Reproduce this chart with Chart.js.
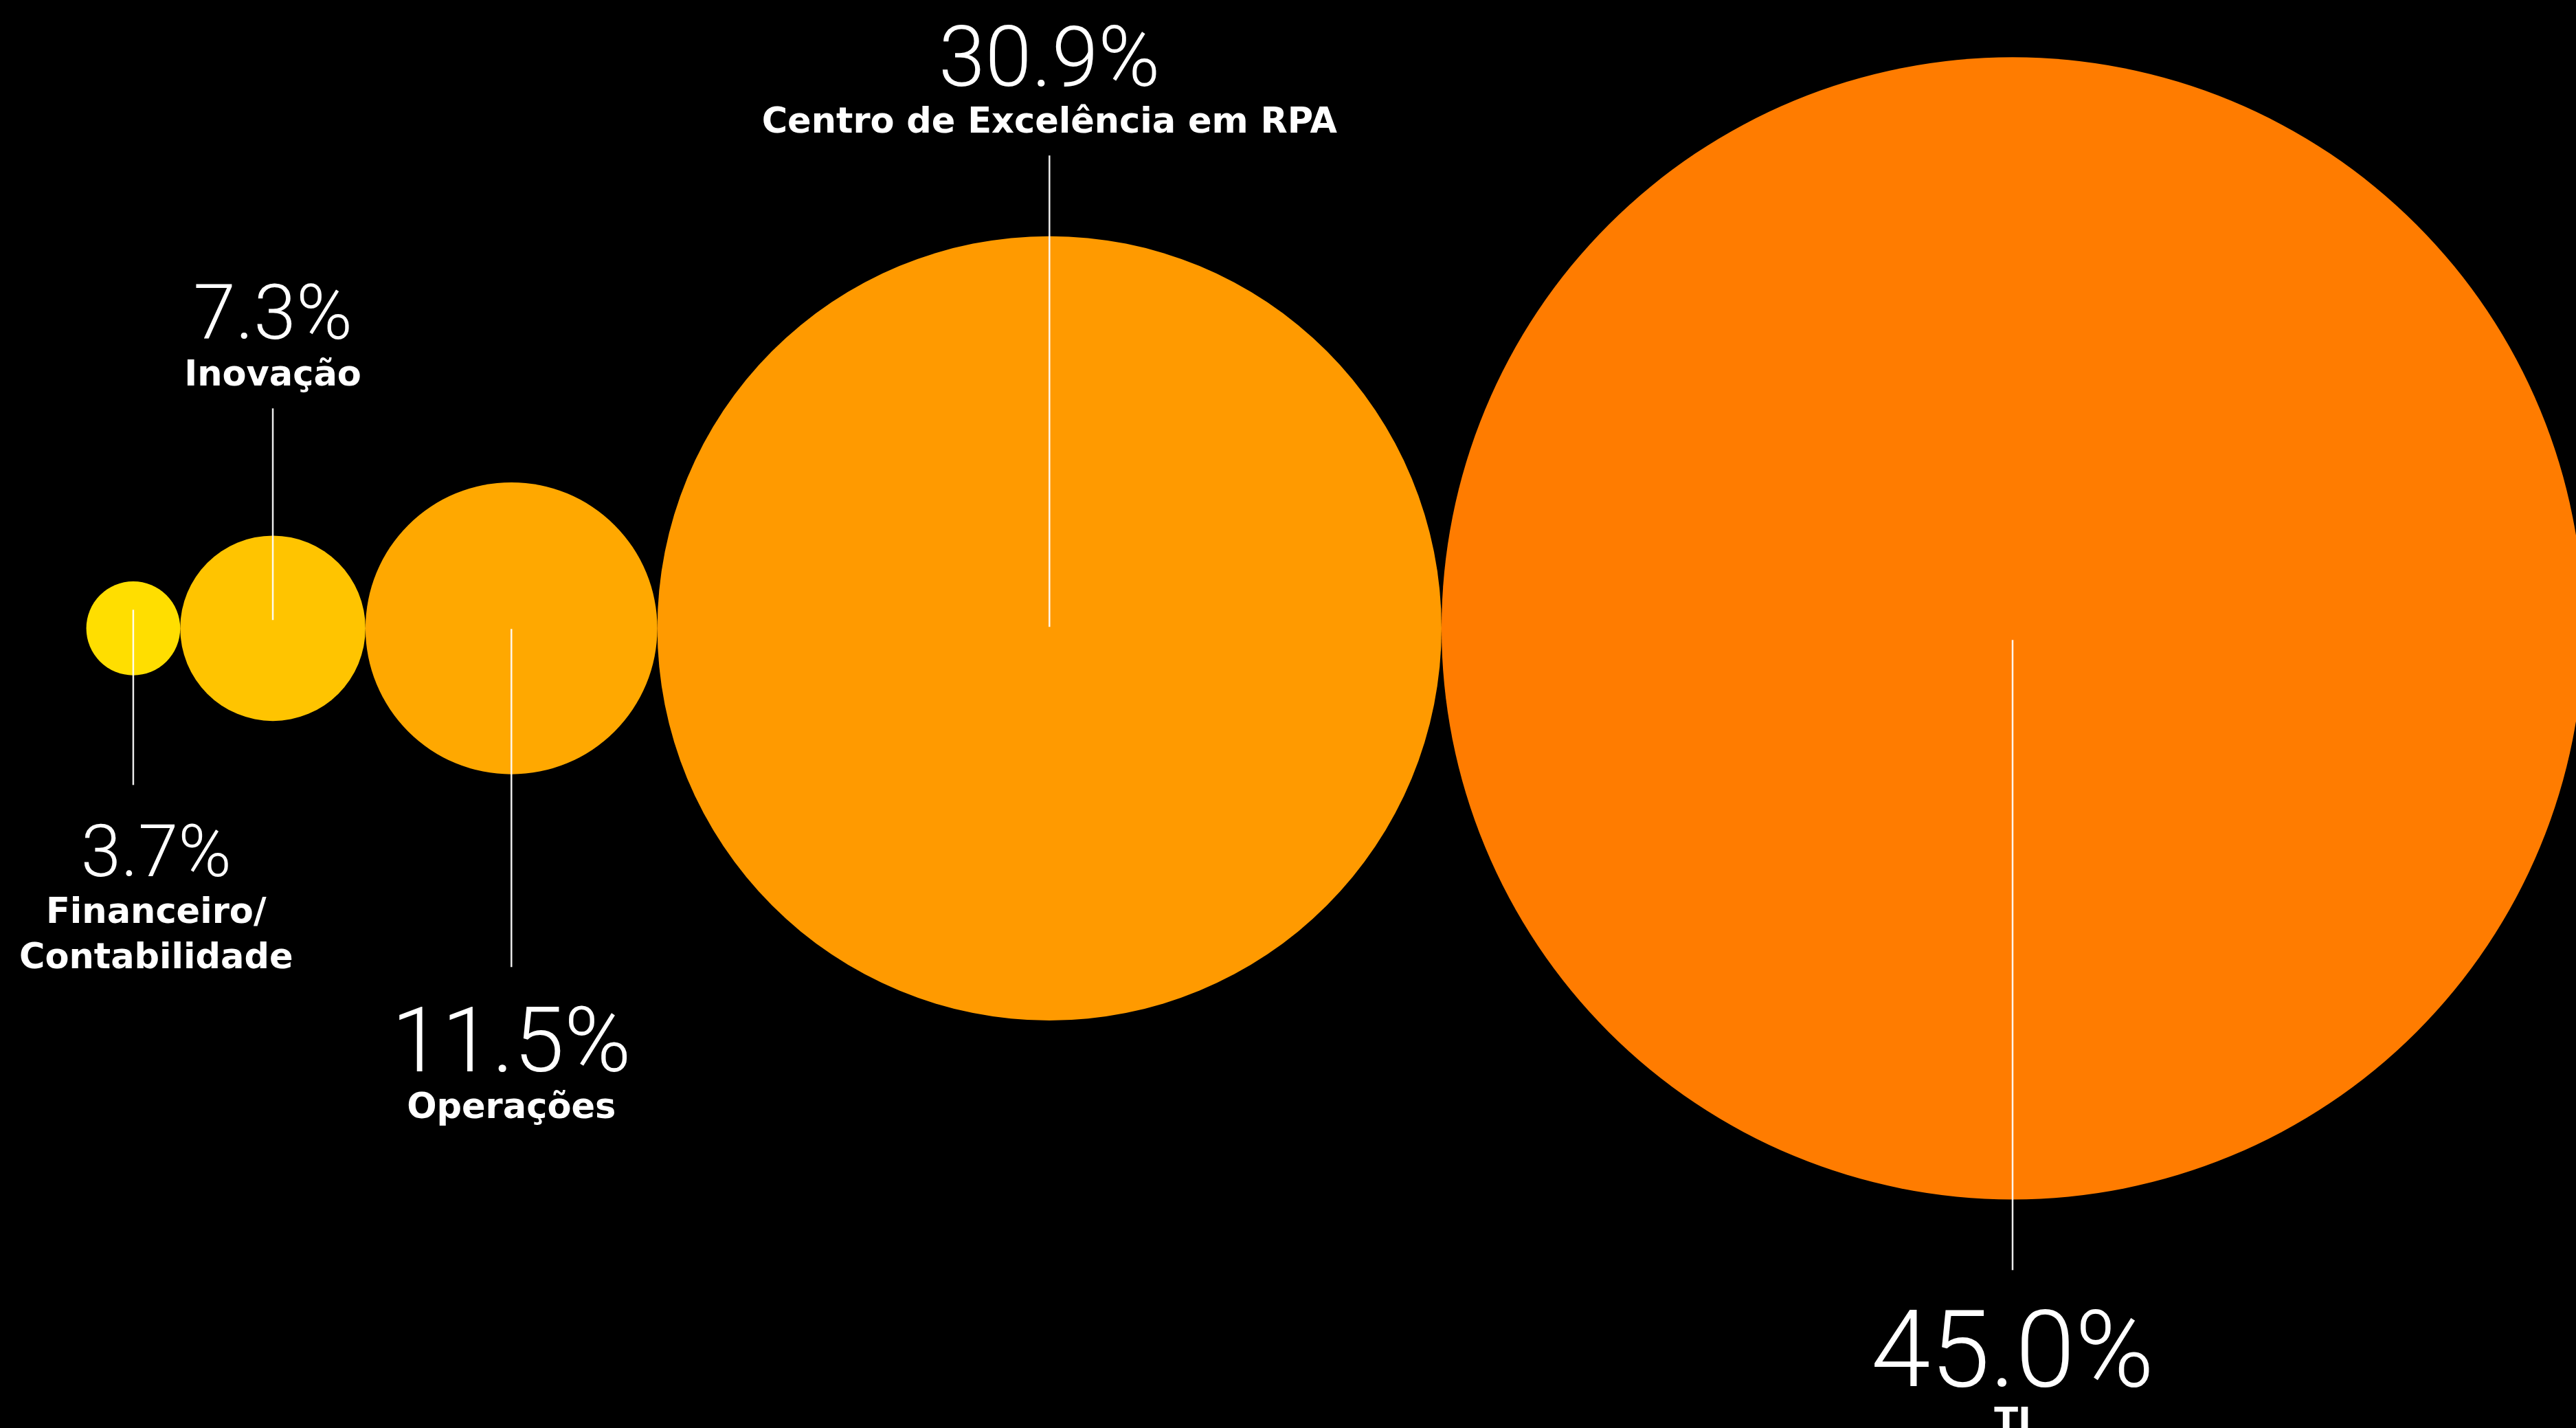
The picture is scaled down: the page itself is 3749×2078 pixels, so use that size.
<!DOCTYPE html>
<html>
<head>
<meta charset="utf-8">
<script src="https://cdn.jsdelivr.net/npm/chart.js@4.4.1/dist/chart.umd.min.js"></script>
<style>
  html, body { margin: 0; padding: 0; background: #000; overflow: hidden; }
  #bubbleChart { display: block; }
</style>
</head>
<body>
<canvas id="bubbleChart" width="3749" height="2078"></canvas>
<script>
// Share of RPA ownership by area (%)
const categories = [["Financeiro/", "Contabilidade"], ["Inovação"], ["Operações"], ["Centro de Excelência em RPA"], ["TI"]];
const shares = [3.7, 7.3, 11.5, 30.9, 45.0];
const shareLabels = ["3.7%", "7.3%", "11.5%", "30.9%", "45.0%"];

// palette, yellow to orange
const bubbleColors = ["#FFDE00", "#FFC400", "#FFA800", "#FF9A00", "#FF7C00"];

// callout layout: side, leader line span from the bubble centre (px), size of the figure
const calloutSide = ["below", "above", "below", "above", "below"];
const leaderSpan = [[-27, 228], [-12, -320], [1, 493], [-2, -688], [17, 934]];
const figureSize = [105, 111, 132, 122, 156];

// axes run in share units so a bubble's radius equals its share on the x scale
const X_MIN = -6.8, X_MAX = 196.2;
const Y_MIN = -63, Y_MAX = 49.5;

// bubbles sit side by side, each one touching the next
const points = [];
let cursor = 0;
shares.forEach((v) => {
    points.push({ x: cursor + v, y: 0, v: v });
    cursor += 2 * v;
});

const figureFont = (size) => `300 ${size}px Roboto, "Open Sans", sans-serif`;
const NAME_FONT = `bold 51px "DejaVu Sans", sans-serif`;

const calloutPlugin = {
    id: "callouts",
    afterDatasetsDraw(chart) {
        const ctx = chart.ctx;
        const meta = chart.getDatasetMeta(0);
        ctx.save();
        meta.data.forEach((el, i) => {
            const cx = el.x, cy = el.y;
            const [from, to] = leaderSpan[i];

            // leader line
            ctx.strokeStyle = "rgba(255,255,255,0.92)";
            ctx.lineWidth = 2.5;
            ctx.beginPath();
            ctx.moveTo(cx, cy + from);
            ctx.lineTo(cx, cy + to);
            ctx.stroke();

            const lines = categories[i];
            const size = figureSize[i];

            // keep the text block inside the canvas
            ctx.font = NAME_FONT;
            let half = Math.max(...lines.map(t => ctx.measureText(t).width)) / 2;
            ctx.font = figureFont(size);
            half = Math.max(half, ctx.measureText(shareLabels[i]).width / 2);
            const tx = Math.max(cx, half + 28);

            let figBase, nameBase;
            if (calloutSide[i] === "below") {
                figBase = cy + to + 58 + size * 0.711;
                nameBase = figBase + 68;
            } else {
                const lastName = cy + to - 33;
                nameBase = lastName - 66 * (lines.length - 1);
                figBase = nameBase - 68;
            }

            ctx.fillStyle = "#FFFFFF";
            ctx.textAlign = "center";
            ctx.textBaseline = "alphabetic";
            ctx.font = figureFont(size);
            ctx.fillText(shareLabels[i], tx, figBase);

            ctx.font = NAME_FONT;
            lines.forEach((t, j) => ctx.fillText(t, tx, nameBase + 66 * j));
        });
        ctx.restore();
    }
};

function drawChart() {
    const ctx = document.getElementById("bubbleChart").getContext("2d");
    new Chart(ctx, {
        type: "bubble",
        data: {
            datasets: [{
                data: points,
                backgroundColor: bubbleColors,
                borderWidth: 0,
                // radius in pixels: the share measured along the x axis (chart area spans the canvas)
                radius: (c) => {
                    if (!c.raw) return 0;
                    return c.raw.v * c.chart.width / (X_MAX - X_MIN);
                },
                clip: false
            }]
        },
        options: {
            responsive: false,
            devicePixelRatio: 1,
            animation: false,
            events: [],
            layout: { autoPadding: false, padding: 0 },
            plugins: {
                legend: { display: false },
                tooltip: { enabled: false }
            },
            scales: {
                x: { type: "linear", display: false, min: X_MIN, max: X_MAX },
                y: { type: "linear", display: false, min: Y_MIN, max: Y_MAX }
            }
        },
        plugins: [calloutPlugin]
    });
}

Promise.all([
    document.fonts.load(figureFont(120)),
    document.fonts.load(NAME_FONT)
]).then(drawChart, drawChart);
</script>
</body>
</html>
